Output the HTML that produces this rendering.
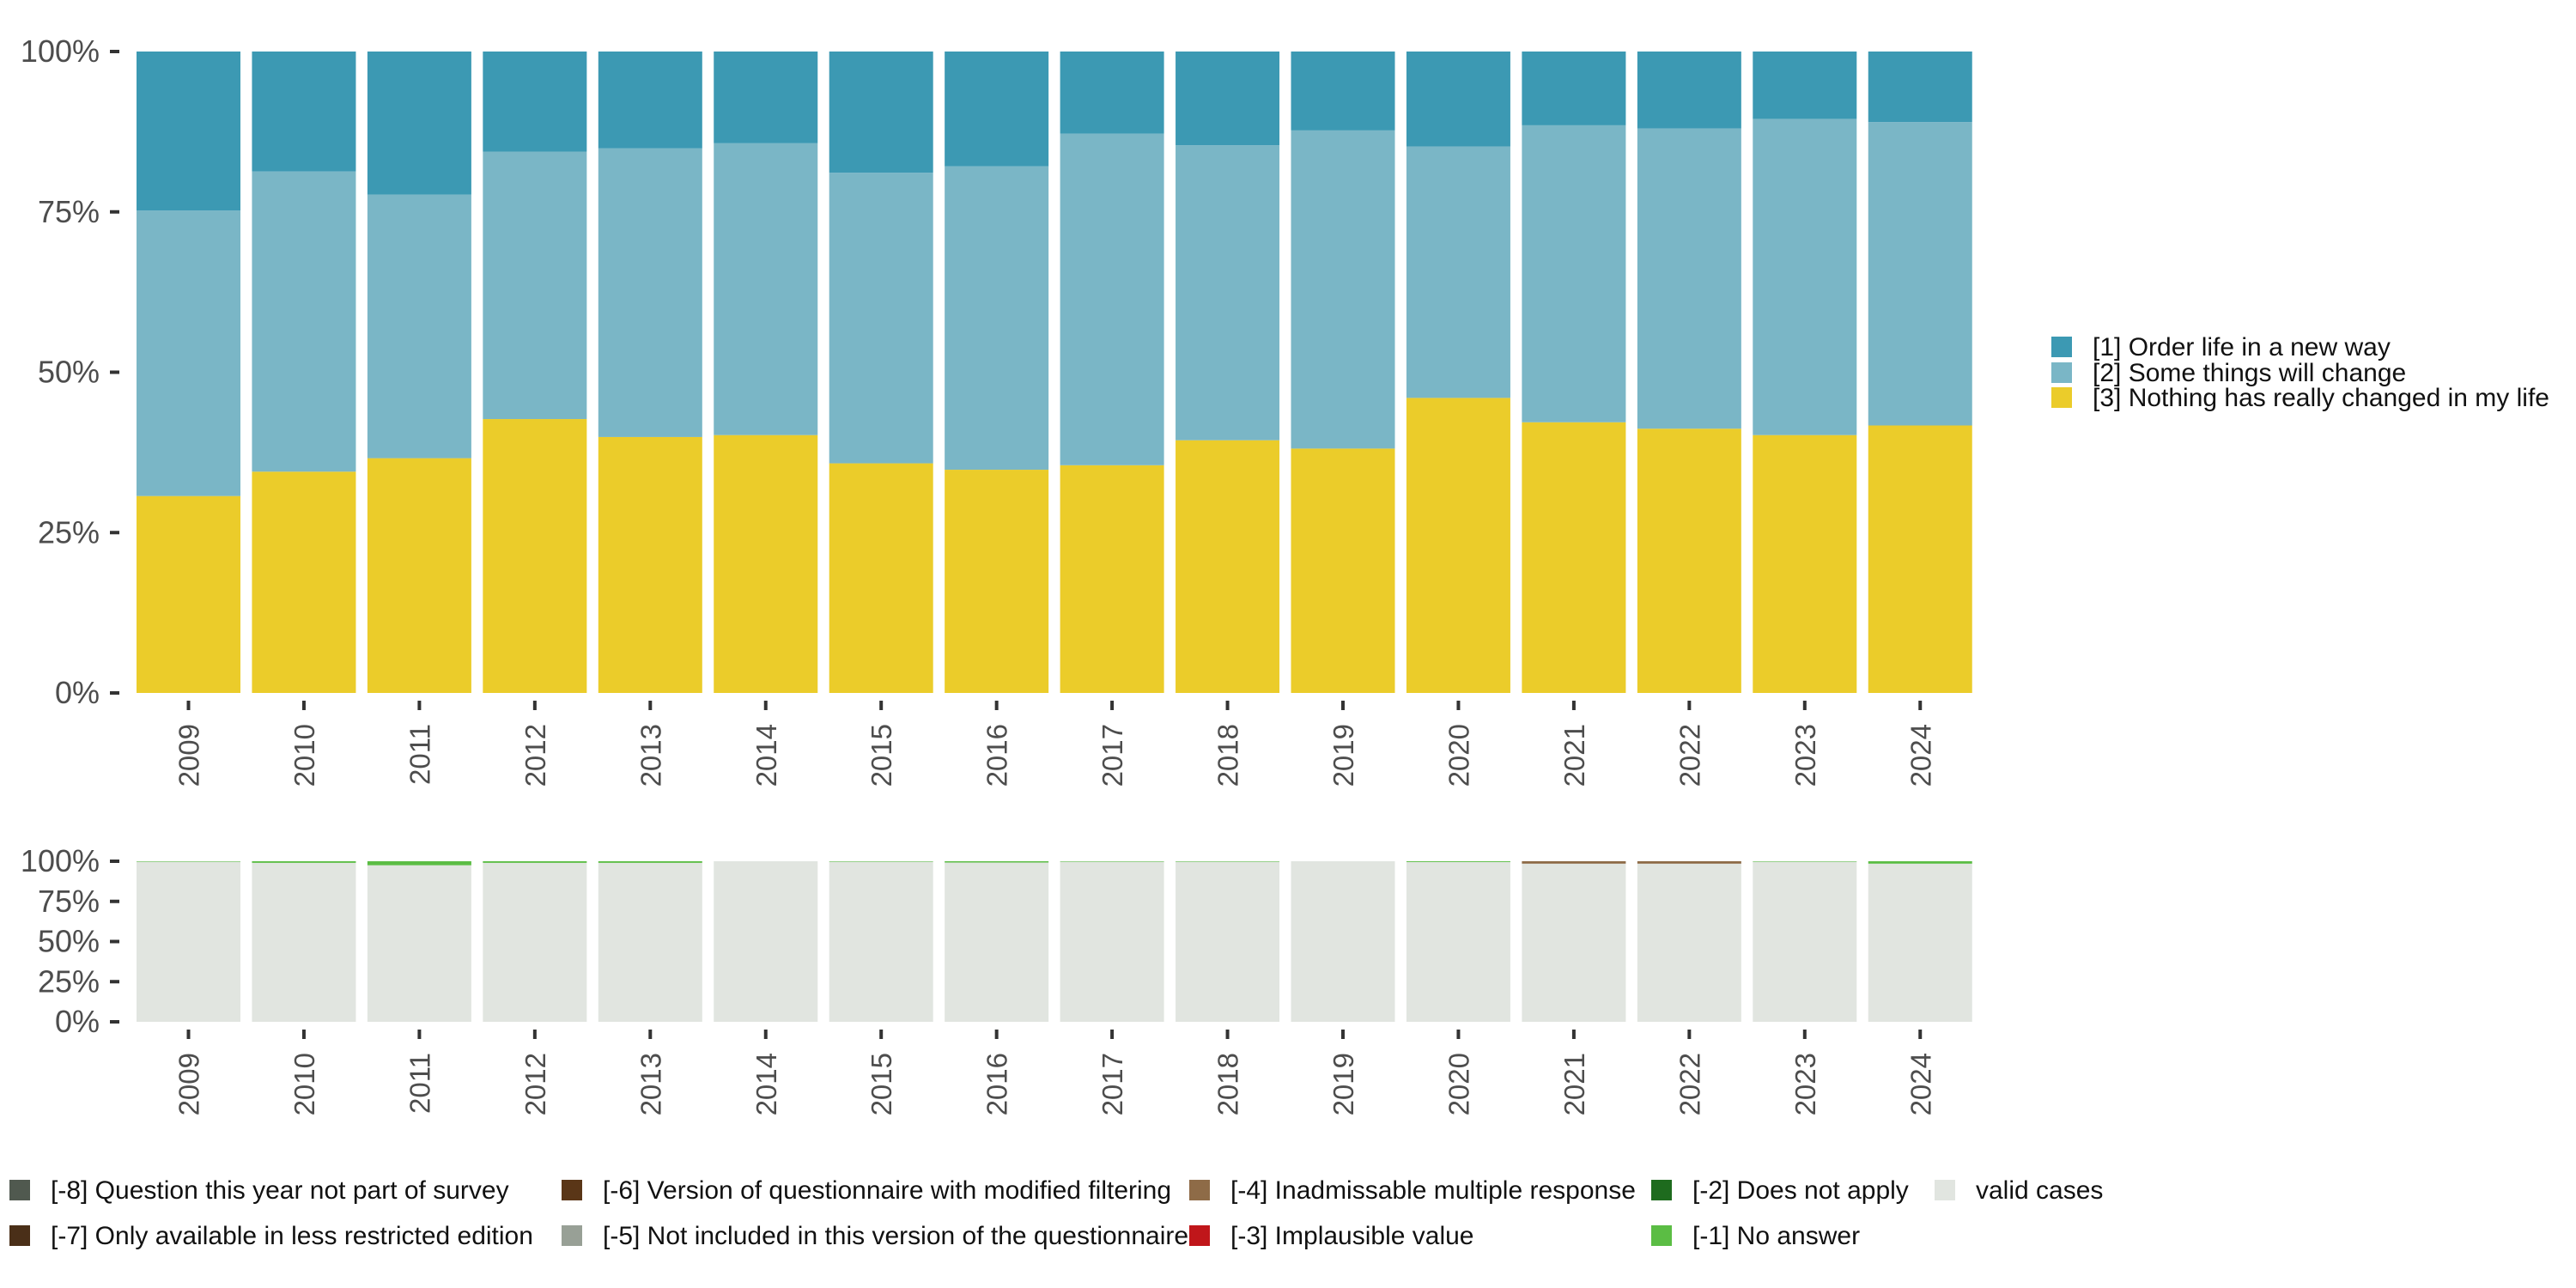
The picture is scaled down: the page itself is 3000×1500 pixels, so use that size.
<!DOCTYPE html>
<html><head><meta charset="utf-8"><style>
html,body{margin:0;padding:0;background:#fff;}
svg{display:block;font-family:"Liberation Sans",sans-serif;}
</style></head><body>
<svg id="chart" width="3000" height="1500" viewBox="0 0 3000 1500" xmlns="http://www.w3.org/2000/svg"></svg>
<script>
const years = ["2009","2010","2011","2012","2013","2014","2015","2016","2017","2018","2019","2020","2021","2022","2023","2024"];
const nothingChanged = [30.7,34.5,36.6,42.7,39.9,40.2,35.8,34.8,35.5,39.4,38.1,46.0,42.2,41.2,40.2,41.7];
const someThings = [44.5,46.8,41.1,41.7,45.0,45.5,45.3,47.3,51.7,46.0,49.6,39.2,46.3,46.8,49.3,47.3];
const orderLife = [24.8,18.7,22.3,15.6,15.1,14.3,18.9,17.9,12.8,14.6,12.3,14.8,11.5,12.0,10.5,11.0];
const noAnswer = [0.3,1.0,2.5,1.0,1.0,0,0.3,0.8,0.3,0.3,0,0.5,0,0,0.3,1.5];
const inadmissible = [0,0,0,0,0,0,0,0,0,0,0,0,1.5,1.5,0,0];
const yTicks = [0,25,50,75,100];
const NS="http://www.w3.org/2000/svg";
const svg=document.getElementById('chart');
function mk(tag,attrs,parent){const e=document.createElementNS(NS,tag);for(const k in attrs)e.setAttribute(k,attrs[k]);(parent||svg).appendChild(e);return e;}
const pitch=134.45, bw=121, x0=159;
function xPos(i){return x0+i*pitch;}
function panel(top,bottom,stacks,name){
  const g=mk('g',{});
  
  
  const yS=v=>bottom-(bottom-top)*v/100;
  yTicks.forEach(t=>{
    const tx=mk('text',{x:116,y:yS(t)+12,'text-anchor':'end','font-size':36,fill:'#4d4d4d'},g);
    tx.textContent=t+'%';
    
    
    mk('line',{x1:128,x2:139,y1:yS(t),y2:yS(t),stroke:'#333','stroke-width':4},g);
  });
  years.forEach((yr,i)=>{
    let base=0;
    stacks.forEach(s=>{
      const v=s.vals[i];
      if(v>0){
        const r=mk('rect',{x:xPos(i),width:bw,y:yS(base+v),height:yS(base)-yS(base+v),fill:s.color},g);
        
        
      }
      base+=v;
    });
    const cx=xPos(i)+bw/2;
    mk('line',{x1:cx,x2:cx,y1:bottom+9,y2:bottom+20,stroke:'#333','stroke-width':4},g);
    const t=mk('text',{x:0,y:0,'text-anchor':'end','font-size':33,fill:'#4d4d4d',transform:`translate(${cx+12},${bottom+36}) rotate(-90)`},g);
    t.textContent=yr;
    
    
  });
}
const validCases=years.map((y,i)=>100-noAnswer[i]-inadmissible[i]);
panel(60,807,[{key:'nothing',vals:nothingChanged,color:'#EBCC2A'},{key:'some',vals:someThings,color:'#7AB6C6'},{key:'order',vals:orderLife.map((v,i)=>100-nothingChanged[i]-someThings[i]),color:'#3C99B3'}],'main-panel');
panel(1003,1190,[{key:'valid',vals:validCases,color:'#E1E5E0'},{key:'inadmissible',vals:inadmissible,color:'#8E6B47'},{key:'noanswer',vals:noAnswer,color:'#5BBD44'}],'missing-panel');
function legendItem(x,y,color,label,name){
  const g=mk('g',{});
  
  
  mk('rect',{x:x,y:y-12,width:24,height:24,fill:color},g);
  const t=mk('text',{x:x+48,y:y+10,'font-size':30,fill:'#111'},g);
  t.textContent=label;
}
legendItem(2389,404,'#3C99B3','[1] Order life in a new way','legend-order-life');
legendItem(2389,434,'#7AB6C6','[2] Some things will change','legend-some-things');
legendItem(2389,463,'#EBCC2A','[3] Nothing has really changed in my life','legend-nothing-changed');
legendItem(11,1386,'#50594F','[-8] Question this year not part of survey','legend-m8');
legendItem(11,1439,'#4A2F18','[-7] Only available in less restricted edition','legend-m7');
legendItem(654,1386,'#5A3617','[-6] Version of questionnaire with modified filtering','legend-m6');
legendItem(654,1439,'#98A096','[-5] Not included in this version of the questionnaire','legend-m5');
legendItem(1385,1386,'#8E6B47','[-4] Inadmissable multiple response','legend-m4');
legendItem(1385,1439,'#C0161A','[-3] Implausible value','legend-m3');
legendItem(1923,1386,'#1E6B1E','[-2] Does not apply','legend-m2');
legendItem(1923,1439,'#5BBD44','[-1] No answer','legend-m1');
legendItem(2253,1386,'#E1E5E0','valid cases','legend-valid');
</script>
</body></html>
